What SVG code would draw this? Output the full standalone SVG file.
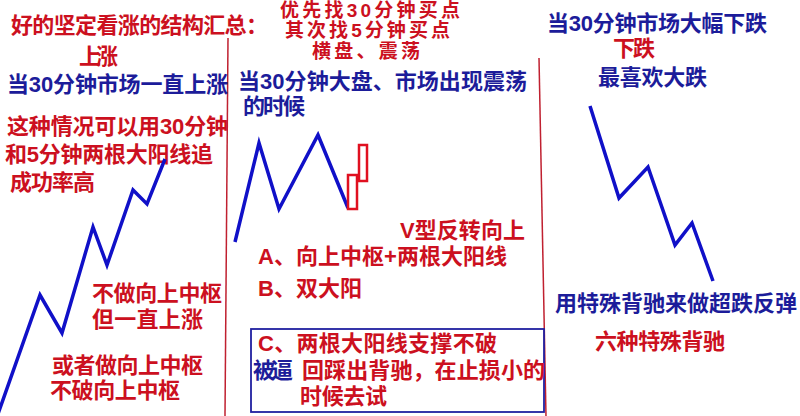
<svg xmlns="http://www.w3.org/2000/svg" width="800" height="416" viewBox="0 0 800 416">
<style>
text{font-family:"Liberation Sans","Noto Sans CJK SC",sans-serif;font-size:22px;font-weight:bold}
.r{fill:#cc1020}
.b{fill:#1c1c9a}
.top{font-size:19px}
.zz{fill:none;stroke:#1010c8;stroke-width:3.5;stroke-linejoin:miter}
.div{stroke:#c02030;stroke-width:1.5;fill:none}
.candle{fill:#fff;stroke:#e01020;stroke-width:2.5}
.box{fill:none;stroke:#2020a0;stroke-width:1.8}
</style>
<rect width="800" height="416" fill="#ffffff"/>
<g id="connectors">
<line class="div" x1="228" y1="38" x2="225" y2="416"/>
<line class="div" x1="539" y1="58" x2="546" y2="416"/>
</g>
<g id="title">
<text class="r" x="11" y="33" textLength="257" lengthAdjust="spacing">好的坚定看涨的结构汇总：</text>
</g>
<g id="left-panel">
<text class="r" x="79" y="64" font-size="21" textLength="39" lengthAdjust="spacing">上涨</text>
<text class="b" x="7" y="92" textLength="221" lengthAdjust="spacing">当30分钟市场一直上涨</text>
<text class="r" x="7" y="134" textLength="221" lengthAdjust="spacing">这种情况可以用30分钟</text>
<text class="r" x="5" y="162" textLength="208" lengthAdjust="spacing">和5分钟两根大阳线追</text>
<text class="r" x="10" y="190" textLength="85" lengthAdjust="spacing">成功率高</text>
<polyline class="zz" points="-2,414 40,295 62,333 93,227 107,265 133,190 147,204 165,159"/>
<text class="r" x="92" y="301" textLength="130" lengthAdjust="spacing">不做向上中枢</text>
<text class="r" x="92" y="327" textLength="111" lengthAdjust="spacing">但一直上涨</text>
<text class="r" x="52" y="373" textLength="151" lengthAdjust="spacing">或者做向上中枢</text>
<text class="r" x="50" y="398" textLength="130" lengthAdjust="spacing">不破向上中枢</text>
</g>
<g id="middle-panel">
<text class="r top" x="280" y="17" textLength="180" lengthAdjust="spacing">优先找30分钟买点</text>
<text class="r top" x="285" y="37" textLength="165" lengthAdjust="spacing">其次找5分钟买点</text>
<text class="r top" x="312" y="58" textLength="108" lengthAdjust="spacing">横盘、震荡</text>
<text class="b" x="238" y="89" textLength="289" lengthAdjust="spacing">当30分钟大盘、市场出现震荡</text>
<text class="b" x="243" y="114" textLength="62" lengthAdjust="spacing">的时候</text>
<polyline class="zz" points="235,242 259,143 279,209 318,135 348,208"/>
<rect class="candle" x="348" y="175" width="9" height="34"/>
<rect class="candle" x="359" y="145" width="8" height="36"/>
<text class="r" x="400" y="238" textLength="125" lengthAdjust="spacing">V型反转向上</text>
<text class="r" x="258" y="264" textLength="249" lengthAdjust="spacing">A、向上中枢+两根大阳线</text>
<text class="r" x="258" y="296" textLength="104" lengthAdjust="spacing">B、双大阳</text>
</g>
<g id="box-c">
<rect class="box" x="251" y="329" width="293" height="83"/>
<text class="r" x="258" y="351" textLength="239" lengthAdjust="spacing">C、两根大阳线支撑不破</text>
<text class="b" x="253" y="378" textLength="40" lengthAdjust="spacing">被逼</text>
<text class="r" x="302" y="378" textLength="243" lengthAdjust="spacing">回踩出背驰，在止损小的</text>
<text class="r" x="300" y="404" textLength="87" lengthAdjust="spacing">时候去试</text>
</g>
<g id="right-panel">
<text class="b" x="547" y="31" textLength="220" lengthAdjust="spacing">当30分钟市场大幅下跌</text>
<text class="r" x="613" y="56" textLength="42" lengthAdjust="spacing">下跌</text>
<text class="b" x="598" y="85" textLength="109" lengthAdjust="spacing">最喜欢大跌</text>
<polyline class="zz" points="590,106 619,198 648,167 675,245 692,223 713,281"/>
<text class="b" x="555" y="311" textLength="242" lengthAdjust="spacing">用特殊背驰来做超跌反弹</text>
<text class="r" x="595" y="349" textLength="130" lengthAdjust="spacing">六种特殊背驰</text>
</g>
</svg>
